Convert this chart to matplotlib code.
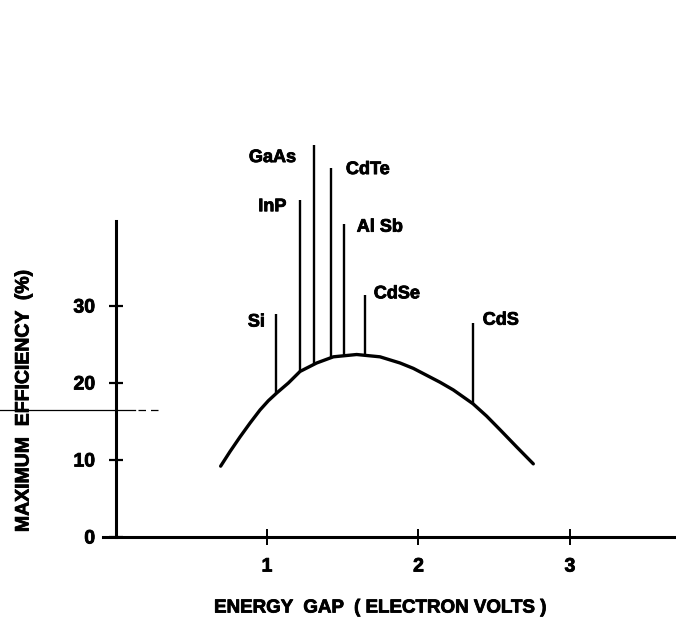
import matplotlib
matplotlib.use("Agg")
import matplotlib.pyplot as plt
import matplotlib.patheffects as pe
from matplotlib.lines import Line2D

# Theoretical maximum solar-cell efficiency versus band gap
gap_ev = [0.694, 0.756, 0.822, 0.888, 0.954, 1.009, 1.064, 1.141, 1.218, 1.328,
          1.438, 1.592, 1.746, 1.878, 1.966, 2.054, 2.142, 2.230, 2.360, 2.450,
          2.540, 2.648, 2.758]
max_eff = [9.2, 11.1, 13.0, 14.8, 16.5, 17.7, 18.7, 20.0, 21.5, 22.6,
           23.4, 23.7, 23.4, 22.6, 21.9, 21.0, 20.1, 19.1, 17.3, 15.7,
           13.9, 11.7, 9.5]

# Semiconductor markers: band gap, curve value at that gap, top of marker line
materials = ["Si", "InP", "GaAs", "CdTe", "Al Sb", "CdSe", "CdS"]
material_gap = [1.06, 1.22, 1.31, 1.42, 1.51, 1.65, 2.36]
material_base = [18.7, 21.5, 22.5, 23.3, 23.6, 23.7, 17.3]
material_top = [29.0, 43.8, 50.9, 47.9, 40.6, 31.4, 27.8]

y_ticks = [0, 10, 20, 30]
x_ticks = [1, 2, 3]

# label placement (offset in points from the top of each marker line, alignment)
label_style = [(-8, -6, "right"), (-10, -5, "right"), (-13, -9, "right"),
               (11, -1, "left"), (9, -2, "left"), (6, 1, "left"), (7, 2, "left")]

FONT = ["Liberation Sans", "DejaVu Sans"]
plt.rcParams["font.family"] = FONT
plt.rcParams["font.weight"] = "bold"

ink = "black"
heavy = [pe.withStroke(linewidth=0.6, foreground=ink)]

fig = plt.figure(figsize=(6.76, 6.23), dpi=100)
W, H = 676, 623
x_left_px = 103.4
y0_px, px_per_pct = 537, 7.7
y_top = 55
ax = fig.add_axes([x_left_px / W, (H - y0_px) / H, (W - x_left_px) / W,
                   y_top * px_per_pct / H])
ax.set_xlim(-0.08, 3.7)
ax.set_ylim(0, y_top)

ax.plot(gap_ev, max_eff, color=ink, lw=2.4, solid_capstyle="round",
        solid_joinstyle="round", clip_on=False)

ax.vlines(material_gap, material_base, material_top, color=ink, lw=1.7)
for name, gx, top, (dx, dy, ha) in zip(materials, material_gap, material_top, label_style):
    ax.annotate(name, (gx, top), xytext=(dx, dy), textcoords="offset points",
                ha=ha, va="center", fontsize=13, fontweight="bold", color=ink,
                path_effects=heavy)

for side in ("top", "right"):
    ax.spines[side].set_visible(False)
ax.spines["left"].set_position(("data", 0))
ax.spines["left"].set_bounds(0, 41)
for side in ("left", "bottom"):
    ax.spines[side].set_linewidth(2.2)
    ax.spines[side].set_color(ink)

ax.set_yticks(y_ticks)
ax.set_yticklabels([str(v) for v in y_ticks])
ax.set_xticks(x_ticks)
ax.set_xticklabels([str(v) for v in x_ticks])
ax.tick_params(axis="y", direction="inout", length=9.5, width=1.6, pad=10,
               labelsize=14, colors=ink)
ax.tick_params(axis="x", direction="inout", length=11, width=1.4, pad=10,
               labelsize=14, colors=ink)
for lab in ax.get_xticklabels() + ax.get_yticklabels():
    lab.set_fontweight("bold")
    lab.set_path_effects(heavy)

fig.text(380 / W, 1 - 608 / H, "ENERGY  GAP  ( ELECTRON VOLTS )", ha="center",
         va="center", fontsize=13.5, fontweight="bold", color=ink,
         path_effects=heavy)
fig.text(24 / W, 1 - 401 / H, "MAXIMUM  EFFICIENCY  (%)", rotation=90,
         ha="center", va="center", fontsize=14, fontweight="bold", color=ink,
         path_effects=heavy)

# faint horizontal dashed rule across the left margin
fig.add_artist(Line2D([0, 135 / W], [1 - 410 / H, 1 - 410 / H], color=ink,
                      lw=0.9, transform=fig.transFigure))
fig.add_artist(Line2D([138 / W, 162 / W], [1 - 410 / H, 1 - 410 / H], color=ink,
                      lw=0.9, dashes=(6, 4), transform=fig.transFigure))

fig.savefig("out.png", dpi=100, facecolor="white")
